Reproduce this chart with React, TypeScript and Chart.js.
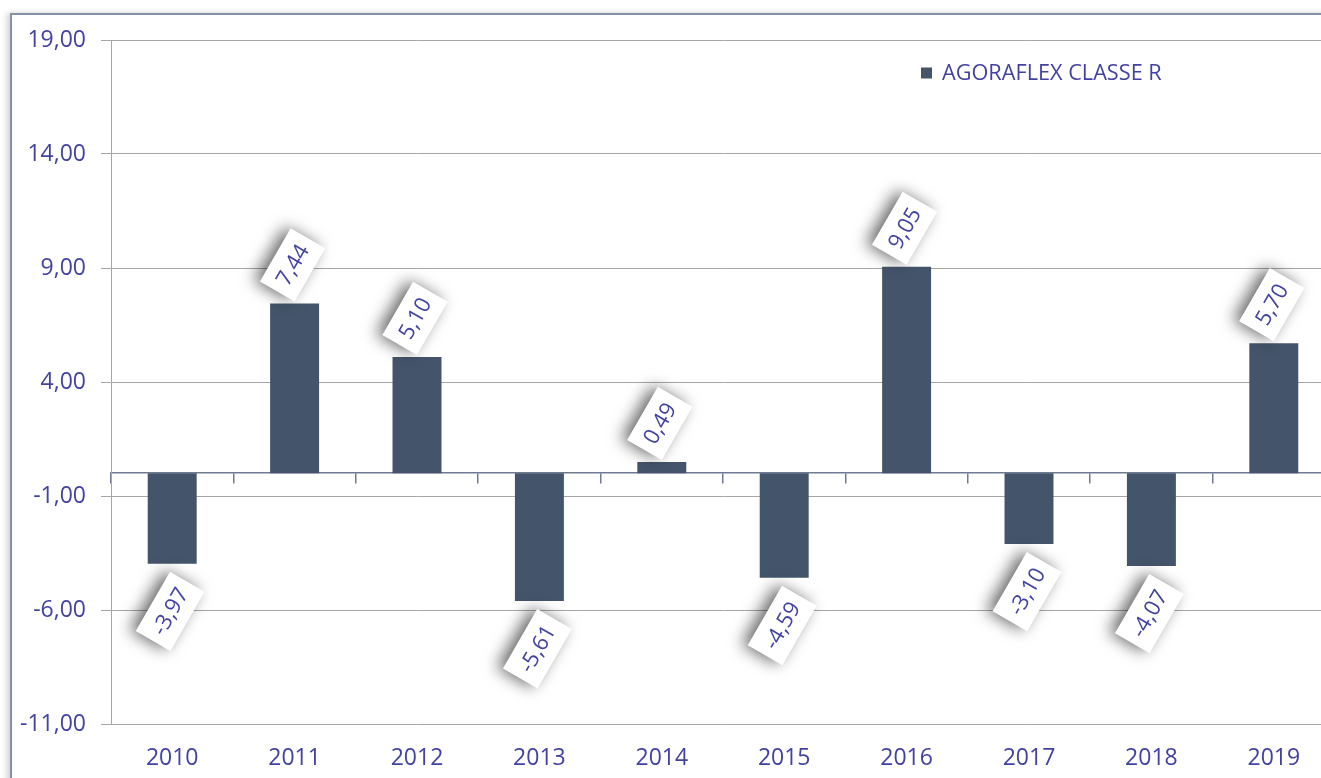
import React, { useEffect, useRef } from "react";
import { Chart, registerables } from "chart.js";

Chart.register(...registerables);

const years = ["2010", "2011", "2012", "2013", "2014", "2015", "2016", "2017", "2018", "2019"];
const returns = [-3.97, 7.44, 5.1, -5.61, 0.49, -4.59, 9.05, -3.1, -4.07, 5.7];
const yTicks = [-11, -6, -1, 4, 9, 14, 19];
const seriesName = "AGORAFLEX CLASSE R";

const BAR = "#44546A";
const TEXT = "#4242A3";
const GRID = "#A6A6A6";
const AXIS = "#6E7B91";
const FONT = '"Open Sans", "DejaVu Sans", sans-serif';

const fmt = (v: number) => v.toFixed(2).replace(".", ",");

const legendPlugin = {
  id: "customLegend",
  afterDraw(chart: any) {
    const ctx = chart.ctx;
    const ds = chart.data.datasets[0];
    const x = chart.chartArea.left + 810;
    const y = chart.chartArea.top + 33;
    ctx.save();
    ctx.fillStyle = ds.backgroundColor;
    ctx.fillRect(x, y - 5.5, 11, 11);
    ctx.font = `21.7px ${FONT}`;
    ctx.fillStyle = TEXT;
    ctx.textBaseline = "middle";
    ctx.textAlign = "left";
    ctx.fillText(ds.label, x + 21, y + 1);
    ctx.restore();
  },
};

const labelPlugin = {
  id: "rotLabels",
  afterDatasetsDraw(chart: any) {
    const ctx = chart.ctx;
    const meta = chart.getDatasetMeta(0);
    const data = chart.data.datasets[0].data as number[];
    const theta = Math.PI / 3;
    meta.data.forEach((bar: any, i: number) => {
      const v = data[i];
      const text = fmt(v);
      ctx.save();
      ctx.font = `22px ${FONT}`;
      const tw = ctx.measureText(text).width;
      const L = tw + 18;
      const H = 40;
      const half = (L * Math.sin(theta) + H * Math.cos(theta)) / 2;
      const cx = bar.x - 2;
      const cy = v >= 0 ? bar.y - half - 2 : bar.y + half + 8;
      ctx.translate(cx, cy);
      ctx.rotate(-theta);
      ctx.shadowColor = "rgba(0,0,0,0.6)";
      ctx.shadowBlur = 16;
      ctx.shadowOffsetX = -6;
      ctx.shadowOffsetY = -1;
      ctx.fillStyle = "#FFFFFF";
      ctx.fillRect(-L / 2, -H / 2, L, H);
      ctx.shadowColor = "transparent";
      ctx.shadowBlur = 0;
      ctx.shadowOffsetX = 0;
      ctx.shadowOffsetY = 0;
      ctx.fillStyle = TEXT;
      ctx.textAlign = "center";
      ctx.textBaseline = "middle";
      ctx.fillText(text, 0, 1);
      ctx.restore();
    });
  },
};

export default function App() {
  const ref = useRef<HTMLCanvasElement | null>(null);

  useEffect(() => {
    document.documentElement.style.overflow = "hidden";
    document.body.style.overflow = "hidden";
    document.body.style.margin = "0";
    if (!ref.current) return;
    Chart.defaults.font.family = FONT;
    const chart = new Chart(ref.current, {
      type: "bar",
      data: {
        labels: years,
        datasets: [
          {
            label: seriesName,
            data: returns,
            backgroundColor: BAR,
            borderWidth: 0,
            categoryPercentage: 1,
            barPercentage: 0.4,
          },
        ],
      },
      options: {
        responsive: false,
        animation: false,
        layout: { padding: { top: 40, left: 0, right: 10, bottom: 0 } },
        plugins: {
          legend: { display: false },
          tooltip: { enabled: false },
        },
        scales: {
          x: {
            type: "category",
            position: "bottom",
            grid: { display: false, drawTicks: false },
            border: { display: false },
            ticks: { color: TEXT, font: { size: 23 }, padding: 21, maxRotation: 0 },
            afterFit: (s: any) => {
              s.height = 54;
            },
          },
          x2: {
            type: "category",
            position: { y: 0 } as any,
            offset: true,
            grid: {
              offset: true,
              drawOnChartArea: false,
              drawTicks: true,
              tickLength: 10,
              color: AXIS,
              lineWidth: 1.5,
            },
            border: { display: true, color: AXIS, width: 1.5 },
            ticks: { display: false },
          },
          y: {
            min: -11,
            max: 19,
            afterBuildTicks: (s: any) => {
              s.ticks = yTicks.map((v) => ({ value: v }));
            },
            afterFit: (s: any) => {
              s.width = 111;
            },
            grid: { color: GRID, lineWidth: 1, drawTicks: true, tickLength: 10 },
            border: { display: true, color: GRID, width: 1 },
            ticks: {
              color: TEXT,
              font: { size: 23 },
              padding: 15,
              callback: (v: any) => fmt(Number(v)),
            },
          },
        },
      },
      plugins: [labelPlugin, legendPlugin],
    });
    return () => chart.destroy();
  }, []);

  return (
    <div
      style={{
        position: "fixed",
        left: 0,
        top: 0,
        width: 1321,
        height: 778,
        overflow: "hidden",
        background: "#FFFFFF",
      }}
    >
      <div
        style={{
          position: "absolute",
          left: 10,
          top: 13,
          width: 1400,
          height: 900,
          borderLeft: "2px solid #8691A5",
          borderTop: "2px solid #8691A5",
          boxShadow: "-3px 0px 6px rgba(0,0,0,0.18)",
        }}
      />
      <div style={{ position: "absolute", left: 0, top: 0, width: 1345, height: 778 }}>
        <canvas
          ref={ref}
          width={1345}
          height={778}
          style={{ display: "block", width: 1345, height: 778 }}
        />
      </div>
    </div>
  );
}
